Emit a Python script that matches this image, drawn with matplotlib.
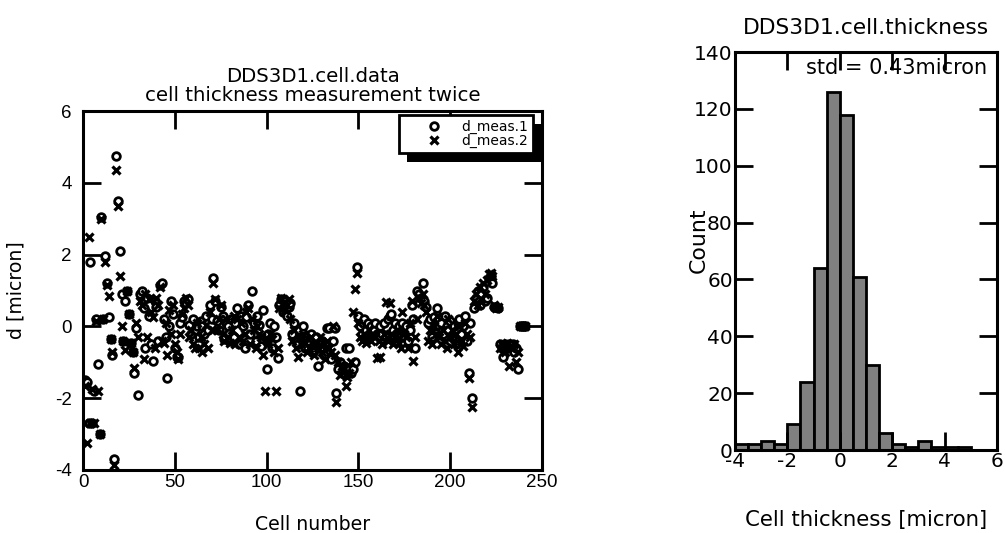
import matplotlib
matplotlib.use("Agg")
import matplotlib.pyplot as plt
import numpy as np
from matplotlib.patches import Rectangle

plt.rcParams['font.family'] = ['Liberation Sans', 'DejaVu Sans']
plt.rcParams['axes.unicode_minus'] = False
WIDE = ['DejaVu Sans']   # the reference text is drawn wide

# ---- data: cell thickness deviation, two measurements per cell ----
cells = np.arange(1, 242)

d_meas1 = [
    -1.5, -1.55, -2.7, 1.8, -2.7, -1.8, 0.2, -1.05, -3.0, 3.05,
    0.2, 1.95, 1.2, 0.25, -0.35, -0.8, -3.7, 4.75, 3.5, 2.1,
    0.9, -0.4, 0.7, 1.0, 0.35, -0.45, -0.7, -1.3, -0.05, -1.9,
    0.9, 1.0, 0.5, -0.6, 0.8, 0.3, -0.5, -0.95, 0.7, 0.55,
    -0.4, 1.15, 1.2, 0.2, -0.3, -1.45, 0.0, 0.7, 0.35, -0.6,
    -0.85, -0.85, 0.1, 0.25, 0.7, 0.65, 0.75, 0.05, -0.2, 0.2,
    -0.1, 0.0, -0.3, 0.15, 0.0, -0.2, 0.3, -0.1, 0.6, 0.2,
    1.35, 0.7, 0.15, -0.1, 0.55, 0.3, -0.35, 0.1, 0.0, -0.4,
    0.2, -0.3, 0.1, 0.5, -0.5, 0.3, 0.0, -0.6, 0.25, 0.6,
    -0.2, 1.0, 0.1, -0.4, 0.3, 0.05, -0.55, 0.45, -0.3, -1.2,
    -0.2, 0.1, -0.6, 0.0, -0.3, -0.88, 0.6, 0.75, 0.4, 0.7,
    0.3, 0.55, 0.65, -0.2, 0.1, -0.4, -0.5, -1.8, -0.3, 0.0,
    -0.6, -0.3, -0.4, -0.2, -0.7, -0.5, -0.3, -1.1, -0.6, -0.4,
    -0.8, -0.5, -0.05, -0.05, -0.9, -0.4, -0.05, -1.85, -1.2, -1.0,
    -1.3, -1.1, -0.6, -1.2, -0.6, -1.3, -1.2, -1.0, 1.65, 0.3,
    0.0, -0.2, 0.2, -0.1, 0.1, -0.3, 0.0, -0.1, 0.1, -0.2,
    -0.3, 0.0, -0.2, 0.1, -0.3, 0.2, 0.3, 0.35, -0.1, 0.1,
    -0.4, 0.0, -0.2, 0.1, -0.3, 0.0, -0.4, -0.1, 0.6, 0.2,
    -0.6, 1.0, 0.9, 0.8, 1.2, 0.7, 0.55, 0.1, 0.2, -0.3,
    0.25, 0.0, 0.5, 0.2, 0.1, -0.2, 0.3, 0.0, -0.1, 0.15,
    -0.3, 0.0, -0.5, 0.1, 0.2, -0.2, 0.0, 0.3, -0.4, -1.3,
    0.1, -2.0, 0.5, 0.8, 1.0, 0.6, 0.9, 1.1, 0.7, 0.8,
    1.35, 1.4, 1.2, 0.55, 0.55, 0.5, -0.5, -0.6, -0.85, -0.5,
    -0.6, -0.5, -0.6, -0.5, -0.7, -0.6, -1.2, 0.0, 0.0, 0.0,
    0.0,
]

d_meas2 = [
    -1.65, -3.25, 2.5, -2.7, -1.75, -2.7, 0.15, -1.8, -3.0, 3.0,
    0.2, 1.8, 1.15, 0.85, -0.35, -0.7, -3.85, 4.35, 3.35, 1.4,
    0.0, -0.4, -0.65, 1.0, 0.35, -0.45, -0.7, -1.15, 0.1, -0.3,
    0.7, 0.6, -0.9, 0.9, -0.3, 0.75, 0.4, 0.25, -0.6, 0.8,
    0.6, 1.1, -0.4, -0.45, 0.1, -0.8, 0.45, -0.2, 0.6, -0.5,
    -0.7, -0.9, -0.2, 0.35, 0.5, 0.8, 0.6, -0.3, -0.1, -0.5,
    -0.6, 0.1, -0.6, -0.3, -0.7, -0.5, 0.05, -0.6, 0.4, -0.1,
    1.2, 0.75, -0.1, 0.2, 0.6, -0.2, -0.4, 0.2, -0.3, -0.45,
    -0.1, 0.3, -0.5, 0.2, -0.3, 0.1, -0.4, -0.2, 0.4, 0.5,
    -0.5, 0.2, -0.1, -0.6, 0.0, -0.2, -0.3, -0.8, -1.8, -0.4,
    -0.5, -0.2, -0.35, -0.7, -1.8, -0.6, 0.5, 0.8, 0.65, 0.45,
    0.6, 0.75, 0.2, -0.4, -0.1, -0.6, -0.85, -0.3, -0.5, -0.2,
    -0.45, -0.7, -0.6, -0.3, -0.5, -0.8, -0.45, -0.6, -0.3, -0.7,
    -0.5, -0.9, -0.4, -0.6, -0.7, 0.0, -0.8, -2.1, -1.0, -1.35,
    -1.1, -1.2, -1.65, -1.4, -1.3, -1.0, 0.4, 1.05, 1.5, 0.1,
    -0.3, -0.4, -0.2, -0.45, -0.3, -0.1, -0.4, -0.25, -0.3, -0.87,
    -0.4, -0.85, -0.5, -0.2, 0.67, -0.4, 0.65, -0.2, -0.5, -0.3,
    -0.1, -0.45, -0.6, 0.4, -0.2, -0.3, -0.6, 0.1, 0.7, -0.95,
    -0.3, 0.22, 0.8, 0.65, 0.9, 0.6, 0.4, -0.4, -0.1, -0.5,
    0.0, -0.2, 0.3, -0.3, -0.5, -0.1, -0.4, -0.6, 0.2, -0.3,
    -0.1, -0.5, -0.2, -0.7, 0.0, -0.4, -0.55, 0.1, -0.2, -1.45,
    -0.3, -2.25, 0.7, 0.9, 0.6, 1.1, 0.75, 1.2, 0.9, 1.3,
    1.45, 1.5, 1.4, 0.6, 0.5, 0.55, -0.6, -0.5, -0.55, -0.7,
    -0.45, -1.1, -0.55, -0.6, -0.5, -1.0, -0.7, 0.0, 0.0, 0.0,
    0.0,
]

# ---- histogram counts (bin width 0.5 micron) ----
bin_left = np.arange(-4.0, 5.0, 0.5)
counts = [2, 2, 3, 2, 9, 24, 64, 126, 118, 61, 30, 6, 2, 1, 3, 1, 1, 1]

fig = plt.figure(figsize=(10.05, 5.33), dpi=100)

# ---------------- left: scatter of both measurements ----------------
ax = fig.add_axes([0.0826, 0.1182, 0.4567, 0.6735])
ax.plot(cells, d_meas1, 'o', ls='none', ms=5.5, mfc='white', mec='black', mew=2,
        label='d_meas.1')
ax.plot(cells, d_meas2, 'x', ls='none', ms=6, mec='black', mew=2.3,
        label='d_meas.2')
ax.set_xlim(0, 250)
ax.set_ylim(-4, 6)
ax.set_xticks(np.arange(0, 251, 50))
ax.set_yticks(np.arange(-4, 7, 2))
ax.set_title('DDS3D1.cell.data\ncell thickness measurement twice', fontsize=14.2,
             family=WIDE, pad=7.5, linespacing=0.95)
ax.set_xlabel('Cell number', fontsize=13.6, family=WIDE)
ax.set_ylabel('d [micron]', fontsize=13.6, family=WIDE)
ax.xaxis.set_label_coords(0.5, -0.125)
ax.yaxis.set_label_coords(-0.125, 0.5)
ax.tick_params(labelsize=13.5)
ax.tick_params(axis='y', pad=8)
ax.tick_params(axis='x', pad=3)

leg = ax.legend(loc='upper right', bbox_to_anchor=(0.98, 0.989),
                prop={'family': WIDE, 'size': 10}, numpoints=1,
                frameon=True, fancybox=False, handletextpad=-0.2,
                borderpad=0.35, labelspacing=0.0, handlelength=4.3,
                borderaxespad=0.0, framealpha=1)
leg.get_frame().set_edgecolor('black')
leg.get_frame().set_linewidth(2)
leg.set_zorder(10)

# ---------------- right: histogram ----------------
ax2 = fig.add_axes([0.7313, 0.1557, 0.2607, 0.7467])
ax2.bar(bin_left, counts, width=0.5, align='edge', color='#808080',
        edgecolor='black', linewidth=2)
ax2.set_xlim(-4, 6)
ax2.set_ylim(0, 140)
ax2.set_xticks(np.arange(-4, 7, 2))
ax2.set_yticks(np.arange(0, 141, 20))
ax2.set_title('DDS3D1.cell.thickness', fontsize=15.7, family=WIDE, pad=13)
ax2.set_xlabel('Cell thickness [micron]', fontsize=15.3, family=WIDE)
ax2.set_ylabel('Count', fontsize=15.8, family=WIDE)
ax2.xaxis.set_label_coords(0.5, -0.15)
ax2.yaxis.set_label_coords(-0.10, 0.528)
ax2.text(0.27, 0.985, 'std = 0.43micron', transform=ax2.transAxes,
         fontsize=15.0, family=WIDE, va='top', ha='left', zorder=5)
ax2.tick_params(labelsize=14.5, pad=1.5)
for lab in ax2.get_xticklabels() + ax2.get_yticklabels():
    lab.set_family(WIDE)

for a in (ax, ax2):
    for s in a.spines.values():
        s.set_linewidth(2.2)
    a.tick_params(which='major', direction='in', length=13, width=2,
                  top=True, right=True)

# legend shadow: solid black block offset down-right, behind the frame
fig.canvas.draw()
bb = leg.get_window_extent()
inv = ax.transAxes.inverted()
(x0, y0), (x1, y1) = inv.transform([[bb.x0 + 8, bb.y0 - 9], [bb.x1 + 8, bb.y1 - 9]])
ax.add_patch(Rectangle((x0, y0), x1 - x0, y1 - y0, transform=ax.transAxes,
                       facecolor='black', edgecolor='none', zorder=9,
                       clip_on=False))

fig.savefig('out.png', dpi=100)
